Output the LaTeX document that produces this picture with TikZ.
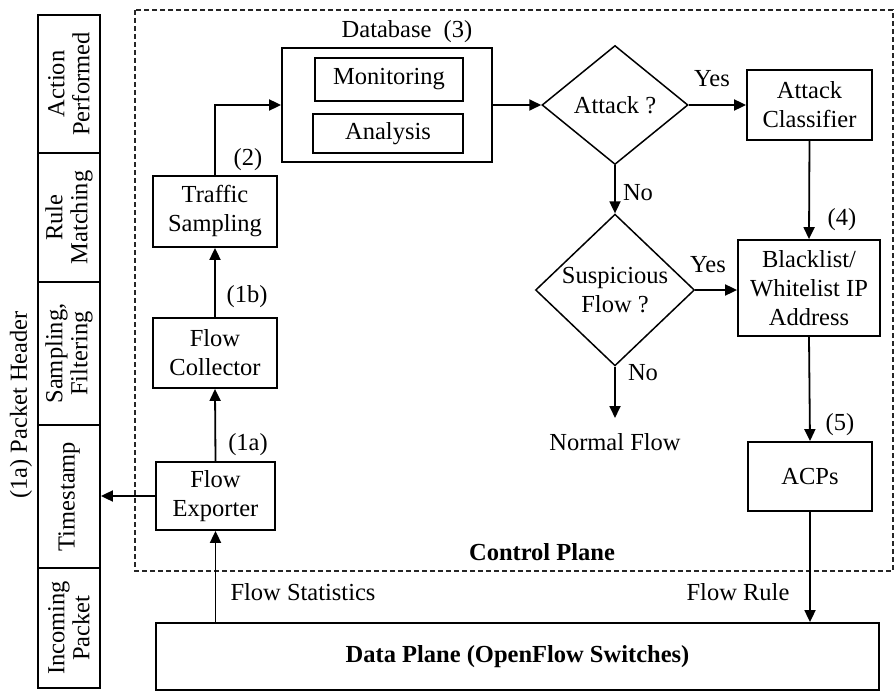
\documentclass[tikz,border=0pt]{standalone}
\usepackage{fontspec}
\setmainfont{Liberation Serif}
\usetikzlibrary{shapes.geometric,arrows.meta}
\begin{document}
\begin{tikzpicture}[x=1pt,y=-1pt,
 every node/.style={font=\fontsize{24.5}{29}\selectfont},
 box/.style={draw,line width=1.8pt,inner sep=0pt,align=center},
 seg/.style={draw,line width=1.8pt,inner sep=0pt,align=center,rotate=90,font=\fontsize{24.5}{25}\selectfont},
 dia/.style={draw,diamond,line width=1.5pt,inner sep=0pt,align=center},
 arr/.style={line width=1.8pt,-{Triangle[length=12pt,width=11pt]}},
 lbl/.style={inner sep=0pt},
 plane/.style={draw=black!85,line width=1.3pt,dash pattern=on 5pt off 3pt}]
\useasboundingbox (0,0) rectangle (895,693);

% control plane region
\draw[plane] (135,10) rectangle (893,571);
\node[lbl,font=\fontsize{24.5}{29}\selectfont\bfseries] (cpl) at (542,552) {Control Plane};

% left column: packet header
\node[seg,minimum width=138pt,minimum height=62pt] (s1) at (69,84) {Action\\Performed};
\node[seg,minimum width=129pt,minimum height=62pt] (s2) at (69,217.5) {Rule\\Matching};
\node[seg,minimum width=143pt,minimum height=62pt] (s3) at (69,353.5) {Sampling,\\Filtering};
\node[seg,minimum width=143pt,minimum height=62pt] (s4) at (69,496.5) {Timestamp};
\node[seg,minimum width=120pt,minimum height=62pt] (s5) at (69,628) {Incoming\\Packet};
\node[lbl,rotate=90] (ph) at (21,405) {(1a) Packet Header};

% boxes
\node[box,minimum width=210pt,minimum height=114pt] (db) at (387,105) {};
\node[box,minimum width=148pt,minimum height=43pt] (mon) at (389,79.5) {Monitoring};
\node[box,minimum width=150pt,minimum height=39pt] (ana) at (388,133.5) {Analysis};
\node[lbl] (dbl) at (407,32) {Database\ \ (3)};

\node[box,minimum width=124pt,minimum height=71pt] (tsamp) at (215,211.5) {Traffic\\Sampling};
\node[box,minimum width=124pt,minimum height=70pt] (fc) at (215,353) {Flow\\Collector};
\node[box,minimum width=119pt,minimum height=68pt] (fe) at (215.5,496) {Flow\\Exporter};

\node[dia,minimum width=146pt,minimum height=119pt] (att) at (615,105) {Attack ?};
\node[box,minimum width=125pt,minimum height=70pt] (ac) at (809.5,105) {Attack\\Classifier};
\node[dia,minimum width=159pt,minimum height=125pt] (susp) at (615,290) {Suspicious\\Flow ?};
\node[box,minimum width=142pt,minimum height=96pt] (bl) at (809,288) {Blacklist/\\Whitelist IP\\Address};
\node[lbl] (normal) at (615,442) {Normal Flow};
\coordinate (nf) at (615,418);
\node[box,minimum width=124pt,minimum height=69pt] (acps) at (810,476.5) {ACPs};
\node[box,minimum width=723pt,minimum height=67pt,font=\fontsize{24.5}{29}\selectfont\bfseries] (dp) at (517.5,656.5) {Data Plane (OpenFlow Switches)};

% connectors
\draw[arr] (fe.south |- dp.north) -- (fe.south);
\draw[arr] (fe.north) -- (fc.south);
\draw[arr] (fc.north) -- (tsamp.south);
\draw[arr] (tsamp.north) |- (db.west);
\draw[arr] (db.east) -- (att.west);
\draw[arr] (att.east) -- (ac.west);
\draw[arr] (att.south) -- (susp.north);
\draw[arr] (susp.east) -- (susp.east -| bl.west);
\draw[arr] (ac.south) -- (bl.north);
\draw[arr] (susp.south) -- (nf);
\draw[arr] (bl.south) -- (acps.north);
\draw[arr] (acps.south) -- (acps.south |- dp.north);
\draw[arr] (fe.west) -- (fe.west -| s4.south);

% labels
\node[lbl] (l1b) at (247,297) {(1b)};
\node[lbl] (l1a) at (248,445) {(1a)};
\node[lbl] (l2) at (248,160) {(2)};
\node[lbl] (y1) at (712,79) {Yes};
\node[lbl] (n1) at (638,193) {No};
\node[lbl] (y2) at (708,265) {Yes};
\node[lbl] (n2) at (643,373) {No};
\node[lbl] (l4) at (842,220) {(4)};
\node[lbl] (l5) at (840,425) {(5)};
\node[lbl] (fr) at (738,592) {Flow Rule};
\node[lbl] (fs) at (303,592) {Flow Statistics};
\end{tikzpicture}
\end{document}
